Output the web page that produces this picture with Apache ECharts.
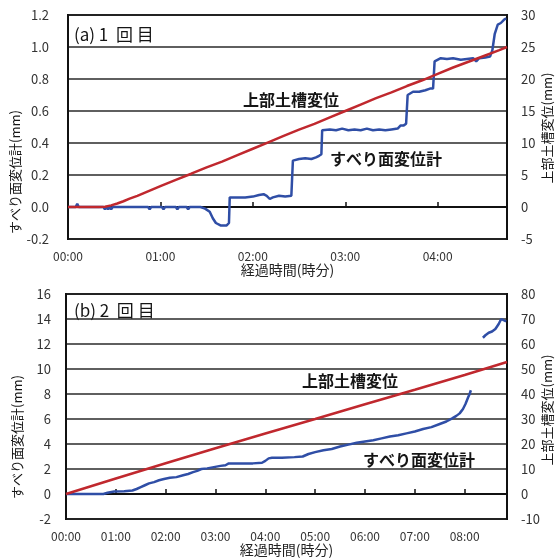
<!DOCTYPE html>
<html>
<head>
<meta charset="utf-8">
<script src="https://cdn.jsdelivr.net/npm/echarts@6/dist/echarts.min.js"></script>
<style>
  html, body { margin: 0; padding: 0; background: #fff; }
  #chart { width: 558px; height: 558px; }
</style>
</head>
<body>
<div id="chart"></div>
<script>
// Run 1: slip-surface gauge (mm, left axis) and upper soil tank displacement (mm, right axis)
const run1SlipMinutes = [0,5,6,7,23,24,25,26,27,28,29,52,53,54,61,62,63,70,71,72,77,78,79,86,89,92,94,96,99,103,104.5,105,115,120,124,127,129,131,133,137,141,145,146,150,154,158,161,163,164.5,165,170,174,178,182,186,190,194,198,202,206,210,214,216,218,219.5,220.5,224,228,232,235,237,238,242,246,250,255,259,263,265,267,271,274,275.5,277,279,281,283,284.5];
const run1Slip = [0,0,0.02,0,0,-0.015,0,-0.015,0,-0.015,0,0,-0.015,0,0,-0.015,0,0,-0.015,0,0,-0.015,0,0,-0.01,-0.03,-0.07,-0.10,-0.115,-0.115,-0.10,0.06,0.06,0.065,0.075,0.08,0.07,0.05,0.06,0.07,0.065,0.07,0.29,0.30,0.305,0.30,0.31,0.32,0.33,0.48,0.485,0.48,0.49,0.48,0.485,0.48,0.49,0.48,0.485,0.48,0.485,0.49,0.51,0.51,0.52,0.70,0.72,0.72,0.73,0.74,0.74,0.91,0.93,0.925,0.93,0.92,0.925,0.93,0.91,0.93,0.935,0.94,0.98,1.08,1.14,1.15,1.17,1.18];
const run1TankMinutes = [0,20,24,28,32,36,40,45,50,55,60,70,80,90,100,110,120,130,140,150,160,170,180,190,200,210,220,230,240,250,260,270,280,285];
const run1Tank = [0,0,0.05,0.25,0.55,0.9,1.3,1.75,2.25,2.75,3.25,4.25,5.2,6.2,7.1,8.1,9.1,10.1,11.1,12.1,13.0,14.0,15.0,16.0,17.0,17.9,18.9,19.8,20.8,21.8,22.7,23.6,24.5,25.0];

// Run 2
const run2SlipMinutes = [0,45,50,58,70,80,85,90,95,100,106,112,118,125,133,141,147,153,158,163,170,178,186,192,196,210,225,236,240,244,248,260,275,285,292,300,310,320,330,340,350,360,370,380,390,400,410,420,430,440,450,458,465,470,474,478,481,484,486,487.5,495,502,505,509,513,517,521,524,527,530];
const run2Slip = [0,0,0.1,0.2,0.22,0.28,0.4,0.55,0.7,0.85,0.95,1.1,1.2,1.3,1.35,1.5,1.6,1.75,1.85,2.0,2.05,2.15,2.25,2.3,2.45,2.45,2.45,2.5,2.65,2.85,2.9,2.9,2.95,3.0,3.2,3.35,3.5,3.6,3.8,3.95,4.1,4.2,4.3,4.45,4.6,4.7,4.85,5.0,5.2,5.35,5.6,5.8,6.05,6.25,6.45,6.8,7.2,7.7,8.0,8.3,null,12.5,12.7,12.9,13.0,13.2,13.6,14.0,13.9,13.8];
const run2TankMinutes = [0,60,120,180,240,300,360,420,480,531];
const run2Tank = [0,6.2,12.3,18.3,24.2,30.0,35.9,41.7,47.6,52.8];

// Axis extents
const run1XMax = 285, run2XMax = 531;
const run1Left = { min: -0.2, max: 1.2, interval: 0.2 };
const run1Right = { min: -5, max: 30, interval: 5 };
const run2Left = { min: -2, max: 16, interval: 2 };
const run2Right = { min: -10, max: 80, interval: 10 };

const FONT = "'Noto Sans CJK JP', 'Noto Sans', sans-serif";
const BLUE = '#2f4ea6';
const RED = '#c0282e';

const pairs = (xs, ys) => xs.map((x, i) => [x, ys[i] === null ? '-' : ys[i]]);
const hhmm = v => {
  if (v % 60 !== 0) return '';
  const h = v / 60;
  return (h < 10 ? '0' : '') + h + ':00';
};

function xAxis(gridIndex, max) {
  return {
    type: 'value', gridIndex, min: 0, max, interval: 60,
    axisLine: { show: true, lineStyle: { color: '#111', width: 2 } },
    axisTick: { show: true, inside: true, length: 5, lineStyle: { color: '#111', width: 1.5 } },
    axisLabel: { formatter: hhmm, color: '#333', fontFamily: FONT, fontSize: 12, margin: 11 },
    splitLine: { show: false },
    name: '経過時間(時分)', nameLocation: 'middle', nameGap: 23,
    nameTextStyle: { color: '#222', fontFamily: FONT, fontSize: 14 }
  };
}
function leftAxis(gridIndex, ext, digits, margin) {
  return {
    type: 'value', gridIndex, position: 'left', min: ext.min, max: ext.max, interval: ext.interval,
    axisLine: { show: true, lineStyle: { color: '#111', width: 2 } },
    axisTick: { show: false },
    axisLabel: { formatter: v => v.toFixed(digits), color: '#333', fontFamily: FONT, fontSize: 13, margin },
    splitLine: { show: true, lineStyle: { color: '#2a2a2a', width: 1.6 } }
  };
}
function rightAxis(gridIndex, ext) {
  return {
    type: 'value', gridIndex, position: 'right', min: ext.min, max: ext.max, interval: ext.interval,
    axisLine: { show: true, lineStyle: { color: '#111', width: 2 } },
    axisTick: { show: false },
    axisLabel: { color: '#333', fontFamily: FONT, fontSize: 13, margin: 14 },
    splitLine: { show: false }
  };
}
function textEl(text, x, y, size, opts) {
  opts = opts || {};
  const el = {
    type: 'text', x, y,
    style: { text, fill: '#151515', font: (opts.weight ? opts.weight + ' ' : '') + size + 'px ' + FONT,
             align: opts.align || 'center', verticalAlign: 'middle' }
  };
  if (opts.rotation !== undefined) el.rotation = opts.rotation;
  return el;
}

const chart = echarts.init(document.getElementById('chart'), null, { renderer: 'canvas' });
chart.setOption({
  backgroundColor: '#fff',
  animation: false,
  grid: [
    { left: 68, top: 15, right: 51, height: 224, show: true, borderColor: '#111', borderWidth: 2, backgroundColor: '#fff' },
    { left: 66, top: 294, right: 51, height: 225, show: true, borderColor: '#111', borderWidth: 2, backgroundColor: '#fff' }
  ],
  xAxis: [xAxis(0, run1XMax), xAxis(1, run2XMax)],
  yAxis: [
    leftAxis(0, run1Left, 1, 19), rightAxis(0, run1Right),
    leftAxis(1, run2Left, 0, 15), rightAxis(1, run2Right)
  ],
  series: [
    { type: 'line', xAxisIndex: 0, yAxisIndex: 0, data: pairs(run1SlipMinutes, run1Slip), showSymbol: false,
      lineStyle: { color: BLUE, width: 2.5 }, z: 3 },
    { type: 'line', xAxisIndex: 0, yAxisIndex: 1, data: pairs(run1TankMinutes, run1Tank), showSymbol: false,
      lineStyle: { color: RED, width: 2.5 }, z: 4 },
    { type: 'line', xAxisIndex: 1, yAxisIndex: 2, data: pairs(run2SlipMinutes, run2Slip), showSymbol: false,
      connectNulls: false, lineStyle: { color: BLUE, width: 2.5 }, z: 3 },
    { type: 'line', xAxisIndex: 1, yAxisIndex: 3, data: pairs(run2TankMinutes, run2Tank), showSymbol: false,
      lineStyle: { color: RED, width: 2.5 }, z: 4 }
  ],
  graphic: [
    // panel titles
    textEl('(a) 1  回 目', 74, 35, 17, { align: 'left' }),
    textEl('(b) 2  回 目', 74, 311, 17, { align: 'left' }),
    // curve annotations
    textEl('上部土槽変位', 291, 100, 16, { weight: 'bold' }),
    textEl('すべり面変位計', 386, 159, 16, { weight: 'bold' }),
    textEl('上部土槽変位', 350, 381, 16, { weight: 'bold' }),
    textEl('すべり面変位計', 419, 460, 16, { weight: 'bold' }),
    // vertical axis titles
    textEl('すべり面変位計(mm)', 15, 172, 13, { rotation: Math.PI / 2 }),
    textEl('すべり面変位計(mm)', 17, 437, 13, { rotation: Math.PI / 2 }),
    textEl('上部土槽変位(mm)', 547, 128, 13, { rotation: Math.PI / 2 }),
    textEl('上部土槽変位(mm)', 547, 410, 13, { rotation: Math.PI / 2 })
  ]
});
</script>
</body>
</html>
